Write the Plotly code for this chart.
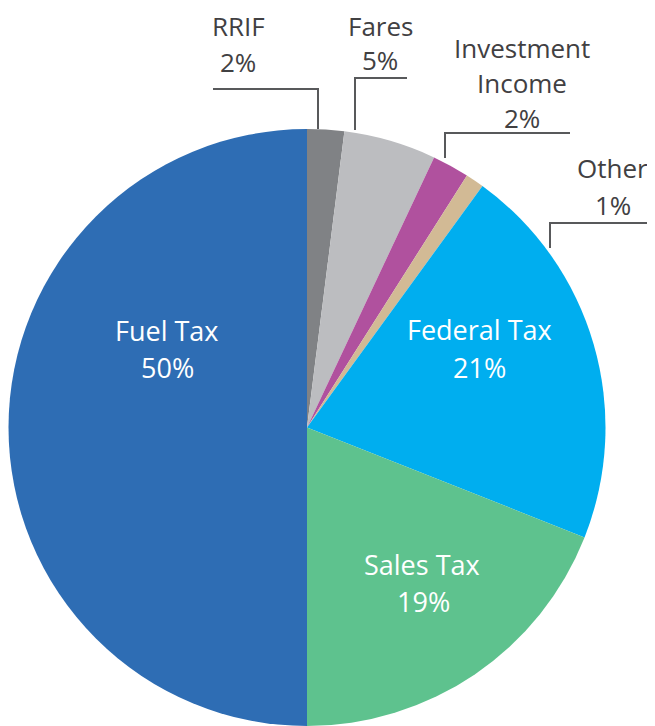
import plotly.graph_objects as go

labels = ["RRIF", "Fares", "Investment Income", "Other", "Federal Tax", "Sales Tax", "Fuel Tax"]
values = [2, 5, 2, 1, 21, 19, 50]
colors = ["#808285", "#BCBDC0", "#B0519E", "#D2BA95", "#00AEEF", "#5EC28E", "#2E6DB4"]

# the page body has an 8px margin, so the figure is drawn 8px in from the window edge
OFF = 8
W, H = 655 - OFF, 726 - OFF

fig = go.Figure(go.Pie(
    labels=labels, values=values, sort=False, direction="clockwise", rotation=0,
    marker=dict(colors=colors, line=dict(width=0)),
    textinfo="none", hoverinfo="label+percent",
    domain=dict(x=[0, 598 / W], y=[0, (H - 121) / H]),
))

def px(x, y):
    # window pixels -> paper coords
    return (x - OFF) / W, 1 - (y - OFF) / H

# each text line: text, centre x, centre y (window pixels), colour, size
lines = [
    ("RRIF", 238, 26, "#414042", 26),
    (f"{values[0]}%", 238, 62, "#414042", 26),
    ("Fares", 380, 26, "#414042", 26),
    (f"{values[1]}%", 380, 60, "#414042", 26),
    ("Investment", 522, 48, "#414042", 26),
    ("Income", 522, 83, "#414042", 26),
    (f"{values[2]}%", 522, 118, "#414042", 26),
    ("Other", 612, 168, "#414042", 26),
    (f"{values[3]}%", 613, 205, "#414042", 26),
    ("Federal Tax", 479, 329, "white", 27),
    (f"{values[4]}%", 479, 367, "white", 27),
    ("Sales Tax", 422, 564, "white", 27),
    (f"{values[5]}%", 423, 601, "white", 27),
    ("Fuel Tax", 167, 330, "white", 27),
    (f"{values[6]}%", 167, 367, "white", 27),
]
for txt, x, y, c, s in lines:
    ax, ay = px(x, y)
    fig.add_annotation(x=ax, y=ay, xref="paper", yref="paper", text=txt, showarrow=False,
                       xanchor="center", yanchor="middle",
                       font=dict(family="Open Sans", size=s, color=c))

# leader lines
leaders = [
    [(213, 89), (318, 89), (318, 129)],
    [(407, 78), (355, 78), (355, 130)],
    [(570, 133), (445, 133), (445, 158)],
    [(655, 223), (550, 223), (550, 248)],
]
for pts in leaders:
    path = ""
    for i, (x, y) in enumerate(pts):
        fx, fy = px(x, y)
        path += ("M" if i == 0 else "L") + f"{fx},{fy} "
    fig.add_shape(type="path", path=path.strip(), xref="paper", yref="paper",
                  line=dict(color="#58595B", width=2))

fig.update_layout(width=W, height=H, margin=dict(l=0, r=0, t=0, b=0),
                  showlegend=False, paper_bgcolor="white", plot_bgcolor="white")
fig.write_html("out.html")
